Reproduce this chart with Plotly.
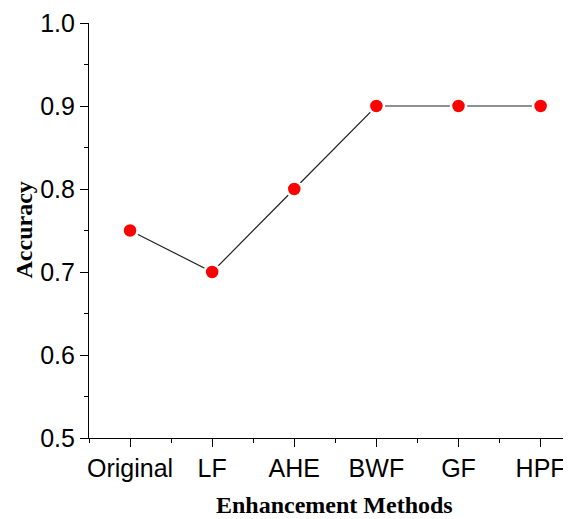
import plotly.graph_objects as go

methods = ["Original", "LF", "AHE", "BWF", "GF", "HPF"]
accuracy = [0.75, 0.70, 0.80, 0.90, 0.90, 0.90]
y_ticks = [0.5, 0.6, 0.7, 0.8, 0.9, 1.0]
y_ticktext = ["0.5", "0.6", "0.7", "0.8", "0.9", "1.0"]

xpos = list(range(len(methods)))

# page body adds an 8px offset; plot area placed so the screenshot matches
L, T, B, R = 81, 15, 81, 8
W, H = 571, 511
pw, ph = W - L - R, H - T - B

fig = go.Figure()
fig.add_trace(go.Scatter(
    x=xpos, y=accuracy, mode="lines+markers",
    line=dict(color="#222222", width=1.2),
    marker=dict(color="#ff0000", size=15, line=dict(color="white", width=2.5)),
    showlegend=False, cliponaxis=False,
))

fig.update_layout(
    width=W, height=H,
    margin=dict(l=L, r=R, t=T, b=B, autoexpand=False),
    plot_bgcolor="white", paper_bgcolor="white",
    font=dict(family="Liberation Sans, Arial", size=25, color="black"),
    annotations=[
        dict(text="<b>Enhancement Methods</b>", xref="paper", yref="paper",
             x=(335 - 89.5) / pw, y=-(505 - 438) / ph,
             xanchor="center", yanchor="middle", showarrow=False,
             font=dict(family="Liberation Serif, Times New Roman", size=24, color="black")),
        dict(text="<b>Accuracy</b>", xref="paper", yref="paper",
             x=-(89.5 - 24) / pw, y=(438 - 230) / ph,
             xanchor="center", yanchor="middle", showarrow=False, textangle=-90,
             font=dict(family="Liberation Serif, Times New Roman", size=24, color="black")),
    ],
)
fig.update_xaxes(
    range=[-0.5, 5.37], tickmode="array", tickvals=xpos, ticktext=methods,
    automargin=False,
    showline=True, linecolor="black", linewidth=1.2, mirror=False,
    ticks="outside", ticklen=8, tickwidth=1.2, tickcolor="black",
    minor=dict(dtick=0.5, tick0=-0.5, ticks="outside", ticklen=4, tickwidth=1.2, tickcolor="black", showgrid=False),
    showgrid=False, zeroline=False,
    tickfont=dict(family="Liberation Sans, Arial", size=25, color="black"),
)
fig.update_yaxes(
    range=[0.5, 1.0], tickmode="array", tickvals=y_ticks, ticktext=y_ticktext,
    automargin=False,
    showline=True, linecolor="black", linewidth=1.2, mirror=False,
    ticks="outside", ticklen=8, tickwidth=1.2, tickcolor="black",
    minor=dict(dtick=0.05, tick0=0.5, ticks="outside", ticklen=4, tickwidth=1.2, tickcolor="black", showgrid=False),
    showgrid=False, zeroline=False,
    tickfont=dict(family="Liberation Sans, Arial", size=25, color="black"),
)

fig.write_html("out.html")
